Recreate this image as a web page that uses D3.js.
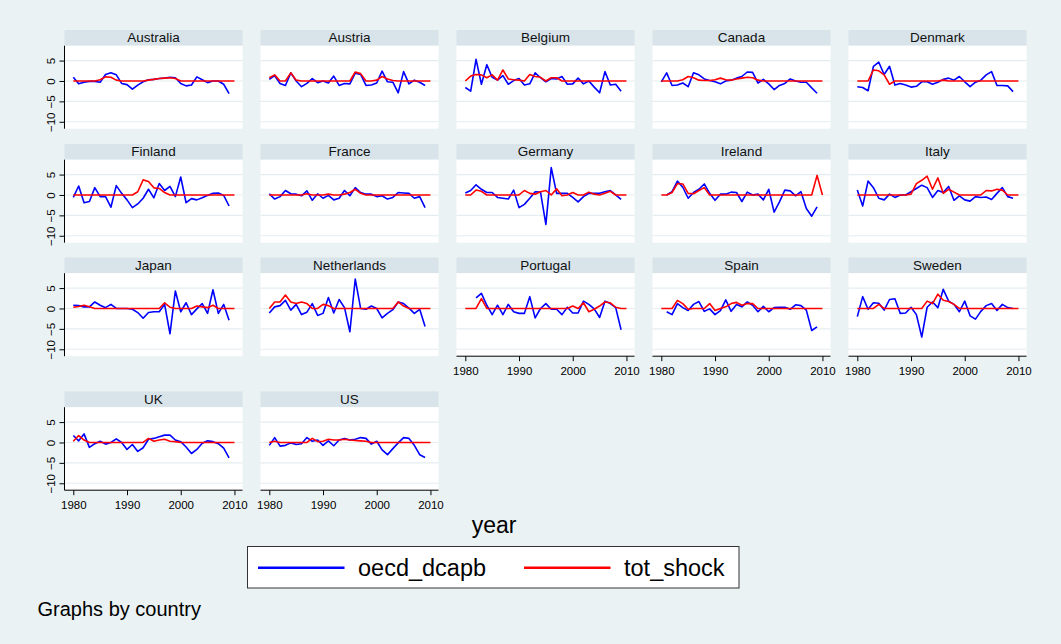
<!DOCTYPE html>
<html><head><meta charset="utf-8">
<script src="https://cdn.jsdelivr.net/npm/d3@7"></script>
<style>
body{margin:0;background:#EAF2F3;}
svg{display:block;font-family:"Liberation Sans",Arial,sans-serif;}
</style>
</head><body><svg id="c" width="1061" height="644"></svg>
<script>
const years = [1980,1981,1982,1983,1984,1985,1986,1987,1988,1989,1990,1991,1992,1993,1994,1995,1996,1997,1998,1999,2000,2001,2002,2003,2004,2005,2006,2007,2008,2009,2010];
const countries = ["Australia","Austria","Belgium","Canada","Denmark","Finland","France","Germany","Ireland","Italy","Japan","Netherlands","Portugal","Spain","Sweden","UK","US"];
const xTicks = [1980,1990,2000,2010];
const yTicks = [-10,-5,0,5];
const seriesNames = ["oecd_dcapb","tot_shock"];

// oecd_dcapb, 1980-2009
const australia_dcapb = [0.9,-0.7,-0.3,-0.1,-0.1,-0.3,1.6,2.0,1.5,-0.6,-0.9,-2.0,-1.0,-0.2,0.3,0.4,0.6,0.7,0.9,0.8,-0.6,-1.2,-1.0,1.0,0.3,-0.4,0,0,-0.8,-3.1];
const austria_dcapb = [0.4,1.3,-0.6,-1.1,2.0,0,-1.4,-0.6,0.6,-0.4,0,-0.5,1.2,-1.1,-0.6,-0.7,1.9,1.6,-1.1,-1.0,-0.5,2.4,-0.2,-0.3,-2.9,2.3,-0.7,0.2,-0.3,-1.1];
const belgium_dcapb = [-1.6,-2.5,5.3,-0.8,4.0,0.9,0.2,1.3,-0.8,0.1,0.6,-1.0,-0.7,2.0,0.8,-0.2,0.6,0.5,1.1,-0.8,-0.7,0.7,-0.7,0,-1.5,-2.9,2.3,-1.0,-0.8,-2.5];
const canada_dcapb = [-0.2,2.0,-1.1,-1.0,-0.5,-1.4,2.0,1.5,0.5,0.1,-0.2,-0.7,0,0.2,0.7,1.1,2.2,2.1,-0.5,0.4,-0.7,-2.1,-1.1,-0.6,0.5,0,-0.3,-0.3,-1.7,-3.0];
const denmark_dcapb = [-1.4,-1.6,-2.4,3.6,4.6,1.6,3.6,-1.0,-0.6,-1.0,-1.5,-1.3,-0.2,-0.2,-0.8,-0.3,0.4,0.7,0.2,1.1,-0.2,-1.4,-0.3,0.2,1.5,2.3,-1.1,-1.1,-1.2,-2.6];
const finland_dcapb = [-0.6,2.2,-1.9,-1.6,1.8,-0.4,-0.4,-3.0,2.3,0.4,-1.2,-3.1,-2.2,-0.8,1.4,-0.7,2.8,1.1,2.1,-0.4,4.4,-1.9,-0.9,-1.2,-0.7,-0.1,0.4,0.5,-0.1,-2.7];
const france_dcapb = [0.3,-1.0,-0.4,1.1,0.3,0.2,-0.2,1.0,-1.3,0.3,-0.8,-0.1,-1.2,-0.8,1.1,-0.2,1.8,0.6,0.2,0.2,-0.4,-0.2,-1.0,-0.6,0.6,0.5,0.4,-0.8,-0.4,-3.1];
const germany_dcapb = [0.5,1.1,2.5,1.4,0.6,0.6,-0.6,-0.8,-1.0,1.2,-3.1,-2.3,-0.8,0.8,0.7,-7.2,6.7,0.4,0.4,0.4,-0.6,-1.7,-0.4,0.4,0.4,0.4,0.8,1.1,0,-1.1];
const ireland_dcapb = [null,0,0.8,3.4,1.9,-0.8,0.6,1.4,2.7,0.4,-1.3,0.2,0.2,0.7,0.6,-1.6,0.7,0,0.2,-1.2,1.4,-4.2,-1.7,1.2,1.0,-0.2,0.8,-3.3,-5.2,-2.9];
const italy_dcapb = [1.2,-2.7,3.4,1.8,-0.8,-1.2,0.2,-0.6,0,0,0.8,1.6,2.4,1.8,-0.6,1.1,0.6,2.1,-1.3,-0.2,-1.2,-1.5,-0.4,-0.6,-0.5,-1.1,0.4,1.8,-0.4,-0.8];
const japan_dcapb = [0.8,0.7,0.4,0.4,1.6,0.8,0.2,1.0,0,0,0,-0.2,-1.0,-2.4,-1.0,-0.8,-0.8,1.0,-6.2,4.3,-0.8,1.4,-1.5,-0.1,1.2,-1.2,4.6,-1.2,1.0,-2.9];
const netherlands_dcapb = [-1.1,0.4,0.7,2.0,-0.4,1.0,-1.5,-0.9,1.2,-1.7,-1.2,2.7,-1.1,2.2,0.2,-5.7,7.2,0,-0.2,0.6,0,-2.3,-1.2,-0.3,1.6,1.2,0.1,-1.2,-0.2,-4.4];
const portugal_dcapb = [null,null,2.6,3.7,0.8,-1.5,0.8,-1.5,1.0,-0.8,-1.2,-1.2,2.9,-2.3,0,1.2,-0.2,-0.2,-1.5,0.3,-1.1,-1.1,1.8,1.0,-0.1,-2.2,1.8,1.2,0.2,-5.2];
const spain_dcapb = [null,-0.8,-1.5,1.2,0.2,-0.5,1.0,1.7,-0.7,-0.1,-1.5,-0.5,2.1,-0.7,1.0,0.4,1.6,0.8,-0.8,0.5,-0.8,0.2,0.3,0.3,-0.2,0.9,0.7,-0.4,-5.4,-4.5];
const sweden_dcapb = [-2.0,2.9,-0.2,1.4,1.3,-0.4,2.2,2.4,-1.2,-1.1,0.3,-1.5,-7.0,0.3,1.6,0.2,4.7,1.8,1.0,-0.8,1.8,-1.8,-2.6,-0.7,0.7,1.2,-0.5,1.0,0.2,0];
const uk_dcapb = [1.7,0.4,2.1,-1.2,-0.3,0.3,-0.4,0,0.9,0,-1.7,-0.5,-2.2,-1.3,0.8,1.0,1.4,1.8,1.8,0.6,0.2,-1.1,-2.7,-1.7,-0.2,0.4,0.2,-0.3,-1.4,-3.8];
const us_dcapb = [-0.7,1.2,-0.9,-0.7,-0.1,-0.5,-0.3,1.2,0.3,0.6,-0.7,0.4,-0.8,0.6,1.0,0.6,0.8,1.2,1.0,-0.4,0.3,-1.8,-3.0,-1.5,-0.1,1.2,1.0,-0.7,-3.0,-3.7];

// tot_shock, 1980-2010
const australia_shock = [0,0,0,0,0,0.3,1.0,0.9,0.2,0,0,0,0,0,0.2,0.4,0.6,0.7,0.8,0.6,0,0,0,0,0,0,0,0,0,0,0];
const austria_shock = [0.8,1.5,0,0,2.0,0.2,0,0,0,0,0,0,0,0,0,0,2.2,1.8,0,0,0.2,1.1,0.5,0.1,0,0,0,0,0,0,0];
const belgium_shock = [0,1.2,1.6,1.5,0.8,1.5,0.2,2.7,0.5,0.3,0.2,0,1.6,1.1,0.9,0,0.8,0.8,0,0,0,0,0,0,0,0,0,0,0,0,0];
const canada_shock = [0,0,0,0,0.3,1.1,0.8,0.2,0.1,0.1,0.3,0.7,0.3,0.2,0.5,0.7,0.9,0.8,0.2,0,0,0,0,0,0,0,0,0,0,0,0];
const denmark_shock = [0,0,0,2.7,2.5,1.5,-0.8,0,0,0,0,0,0,0,0,0,0.2,0,0,0,0,0,0,0,0,0,0,0,0,0,0];
const finland_shock = [0,0,0,0,0,0,0,0,0,0,0,0,0.8,3.7,3.3,1.75,1.6,0.6,0,0,0,0,0,0,0,0,0,0,0,0,0];
const france_shock = [0,0,0,0,0,0,0,0.3,0,0,0,0.2,0,0,0.2,0.6,1.4,0.4,0,0,0,0,0,0,0,0,0,0,0,0,0];
const germany_shock = [0,0,1.2,0.9,0,0,0,0,0,0,0,1.1,0.4,0.2,0.8,1.1,0,1.5,-0.2,0,0.6,0,0,0.7,0.2,0,0.4,0.9,0,0,0];
const ireland_shock = [0,0,0.6,2.8,2.7,0.4,0.3,1.1,1.8,0,0,0,0,0,0,0,0,0,0,0,0,0,0,0,0,0,0,0,0,4.8,0];
const italy_shock = [0,0,0,0,0,0,0,0,0,0,0.2,2.8,3.6,4.6,1.4,4.2,0.4,1.4,0.7,0,0,0,0,0,1.1,1.0,1.4,1.2,0,0,0];
const japan_shock = [0.3,0.5,0.8,0.4,0,0,0,0,0,0,0,0,0,0,0,0,0,1.4,0.3,0,0,0,0,0.6,0.4,0.2,0.8,0,0,0,0];
const netherlands_shock = [0,1.6,1.6,3.3,1.6,1.2,1.6,1.2,0,0,1.0,0.7,0,0,0,0,0,0,0,0,0,0,0,0,1.6,0.6,0,0,0,0,0];
const portugal_shock = [0,0,0,2.4,0,0,0,0,0,0,0,0,0,0,0,0,0,0,0,0,0.6,0,1.4,-0.8,-0.2,0.6,1.6,1.4,0.3,0,0];
const spain_shock = [0,0,0,2.0,1.2,-0.2,0,0,0,1.2,-0.5,0,0.4,1.2,1.5,0.8,1.2,1.2,0,0,0,0,0,0,0,0,0,0,0,0,0];
const sweden_shock = [0,0,0,0,1.0,0,0,0,0,0,0,0,0,1.8,1.2,3.5,2.0,1.7,1.0,0,0,0,0,0,0,0,0,0,0,0,0];
const uk_shock = [0.3,1.7,0.6,0,0,0,0,0,0,0,0,0,0,0,1.0,0.3,0.6,0.8,0.3,0.2,0,0,0,0,0,0,0,0,0,0,0];
const us_shock = [0,0.3,0,0,0,0,0,0,1.0,0.2,0.3,0.8,0.6,0.6,0.8,0.6,0.5,0.4,0.3,0,0,0,0,0,0,0,0,0,0,0,0];

const dcapbList = [australia_dcapb,austria_dcapb,belgium_dcapb,canada_dcapb,denmark_dcapb,finland_dcapb,france_dcapb,germany_dcapb,ireland_dcapb,italy_dcapb,japan_dcapb,netherlands_dcapb,portugal_dcapb,spain_dcapb,sweden_dcapb,uk_dcapb,us_dcapb];
const shockList = [australia_shock,austria_shock,belgium_shock,canada_shock,denmark_shock,finland_shock,france_shock,germany_shock,ireland_shock,italy_shock,japan_shock,netherlands_shock,portugal_shock,spain_shock,sweden_shock,uk_shock,us_shock];

// ---- layout ----
const svg = d3.select("#c");
svg.append("rect").attr("width",1061).attr("height",644).attr("fill","#EAF2F3");

const colLeft = c => 64.5 + 196*c;
const rowTop = [30, 144, 257.5, 391.5];
const panelW = 178, headH = 15.7, plotH = 83;
const nCols = 5;
const nLast = countries.length;

const colorBlue = "#0000FF", colorRed = "#FF0000";

countries.forEach((name, i) => {
  const r = Math.floor(i / nCols), c = i % nCols;
  const left = colLeft(c), top = rowTop[r];
  const pTop = top + headH, pBot = pTop + plotH;
  const x = d3.scaleLinear().domain([1978.36, 2011.5]).range([left, left + panelW]);
  const y = d3.scaleLinear().domain([-11.7, 8.65]).range([pBot, pTop]);
  const g = svg.append("g");

  // header strip
  g.append("rect").attr("x", left).attr("y", top).attr("width", panelW).attr("height", headH).attr("fill", "#D8E4EA");
  g.append("text").attr("x", left + panelW/2).attr("y", top + 12.3).attr("text-anchor","middle")
    .attr("font-size", 13.5).attr("fill","#111").text(name);
  // plot region
  g.append("rect").attr("x", left).attr("y", pTop).attr("width", panelW).attr("height", plotH).attr("fill", "#fff");
  // gridlines
  g.selectAll("line.grid").data(yTicks).join("line").attr("class","grid")
    .attr("x1", left).attr("x2", left + panelW)
    .attr("y1", d => y(d)).attr("y2", d => y(d))
    .attr("stroke", "#E4EDF0").attr("stroke-width", 1.2);

  // y axis on first column
  if (c === 0) {
    const ya = g.append("g").attr("transform", `translate(${left},0)`)
      .call(d3.axisLeft(y).tickValues(yTicks).tickSize(5).tickSizeOuter(0));
    ya.select(".domain").attr("d", `M0,${pTop}V${pBot}`).attr("stroke","#000");
    ya.selectAll(".tick line").attr("stroke","#000");
    ya.selectAll(".tick text").attr("font-size", 11.5).attr("font-family", "Liberation Sans, Arial, sans-serif")
      .attr("fill","#000")
      .attr("x", null).attr("dy", null)
      .attr("text-anchor","middle")
      .attr("transform", "translate(-9.5,0) rotate(-90)");
  }
  // x axis if nothing below
  const below = i + nCols;
  if (below >= nLast) {
    const xa = g.append("g").attr("transform", `translate(0,${pBot})`)
      .call(d3.axisBottom(x).tickValues(xTicks).tickFormat(d3.format("d")).tickSize(5).tickSizeOuter(0));
    xa.select(".domain").attr("d", `M${left},0H${left+panelW}`).attr("stroke","#000");
    xa.selectAll(".tick line").attr("stroke","#000");
    xa.selectAll(".tick text").attr("font-size", 11.5).attr("font-family", "Liberation Sans, Arial, sans-serif")
      .attr("fill","#000").attr("y", 18.5).attr("dy", null);
  }

  const line = d3.line().defined(d => d.v != null).x(d => x(d.year)).y(d => y(d.v));
  const blue = dcapbList[i].map((v, k) => ({year: years[k], v}));
  const red = shockList[i].map((v, k) => ({year: years[k], v}));
  g.append("path").datum(blue).attr("d", line).attr("fill","none").attr("stroke", colorBlue).attr("stroke-width", 1.6).attr("stroke-linejoin","round");
  g.append("path").datum(red).attr("d", line).attr("fill","none").attr("stroke", colorRed).attr("stroke-width", 1.6).attr("stroke-linejoin","round");
});

// x title
svg.append("text").attr("x", 494).attr("y", 533).attr("text-anchor","middle").attr("font-size", 23).attr("fill","#000").text("year");

// legend
const lg = svg.append("g");
lg.append("rect").attr("x", 247.5).attr("y", 546.5).attr("width", 491.5).attr("height", 41.5).attr("fill","#fff").attr("stroke","#333").attr("stroke-width",1);
const legItems = [
  {name: seriesNames[0], color: colorBlue, x1: 258, x2: 344.5, tx: 358},
  {name: seriesNames[1], color: colorRed, x1: 524, x2: 610.5, tx: 624}
];
legItems.forEach(it => {
  lg.append("line").attr("x1", it.x1).attr("x2", it.x2).attr("y1", 567.7).attr("y2", 567.7).attr("stroke", it.color).attr("stroke-width", 2.5);
  lg.append("text").attr("x", it.tx).attr("y", 576).attr("font-size", 23.5).attr("fill","#000").text(it.name);
});

// note
svg.append("text").attr("x", 37.5).attr("y", 616).attr("font-size", 20).attr("fill","#000").text("Graphs by country");
</script>
</body></html>
